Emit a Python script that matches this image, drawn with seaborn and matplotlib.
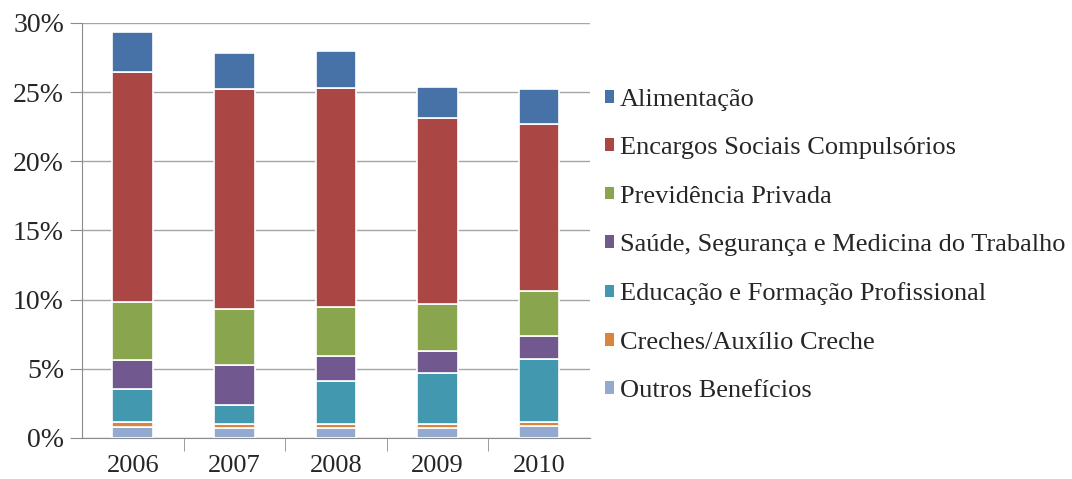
import numpy as np
import pandas as pd
import matplotlib
matplotlib.use('Agg')
import matplotlib.pyplot as plt
import seaborn as sns
from matplotlib.patches import Patch
from matplotlib.ticker import PercentFormatter

anos = ['2006', '2007', '2008', '2009', '2010']
series = ['Outros Benefícios', 'Creches/Auxílio Creche',
          'Educação e Formação Profissional',
          'Saúde, Segurança e Medicina do Trabalho',
          'Previdência Privada', 'Encargos Sociais Compulsórios', 'Alimentação']

outros = [0.8, 0.7, 0.7, 0.7, 0.85]
creches = [0.35, 0.3, 0.3, 0.3, 0.3]
educacao = [2.4, 1.4, 3.1, 3.7, 4.55]
saude = [2.1, 2.9, 1.8, 1.6, 1.7]
previdencia = [4.2, 4.0, 3.6, 3.4, 3.2]
encargos = [16.6, 15.9, 15.8, 13.4, 12.1]
alimentacao = [2.9, 2.6, 2.7, 2.3, 2.5]

cores = ['#93A9CF', '#DB843D', '#4198AF', '#71588F', '#89A54E', '#AA4644', '#4672A8']

valores = [outros, creches, educacao, saude, previdencia, encargos, alimentacao]
df = pd.DataFrame({s: v for s, v in zip(series, valores)}, index=anos)

sns.set_style('white')
plt.rcParams['font.family'] = ['Liberation Serif', 'DejaVu Serif']

fig = plt.figure(figsize=(10.72, 4.79), dpi=100)
ax = fig.add_axes([0.0765, 0.0856, 0.4735, 0.8664])

base = np.zeros(len(anos))
for s, c in zip(series, cores):
    sns.barplot(x=df.index, y=df[s].values, bottom=base, color=c, width=0.4,
                saturation=1, edgecolor='white', linewidth=1.2, ax=ax, zorder=3)
    base = base + df[s].values

ax.set_ylim(0, 30)
ax.set_xlim(-0.5, len(anos) - 0.5)
ax.set_yticks(np.arange(0, 31, 5))
ax.yaxis.set_major_formatter(PercentFormatter(decimals=0))
ax.yaxis.grid(True, color='#A6A6A6', linewidth=1.0, zorder=0)
ax.set_axisbelow(True)
for side in ['top', 'right']:
    ax.spines[side].set_visible(False)
ax.spines['left'].set_color('#8C8C8C')
ax.spines['bottom'].set_color('#8C8C8C')
ax.tick_params(axis='y', left=True, length=9, color='#8C8C8C', labelsize=20, pad=4)
ax.tick_params(axis='x', bottom=False, labelsize=19, pad=9)
ax.set_xticks(np.arange(0.5, len(anos) - 0.5), minor=True)
ax.tick_params(axis='x', which='minor', bottom=True, length=9, color='#8C8C8C')
ax.set_xlabel('')
ax.set_ylabel('')

handles = [Patch(facecolor=c, edgecolor='none', label=s)
           for s, c in zip(series, cores)][::-1]
ax.legend(handles=handles, loc='center left', bbox_to_anchor=(1.009, 0.464),
          frameon=False, fontsize=19, handlelength=0.36, handleheight=0.36,
          handletextpad=0.2, labelspacing=1.0, borderaxespad=0)

fig.savefig('out.png', dpi=100)
